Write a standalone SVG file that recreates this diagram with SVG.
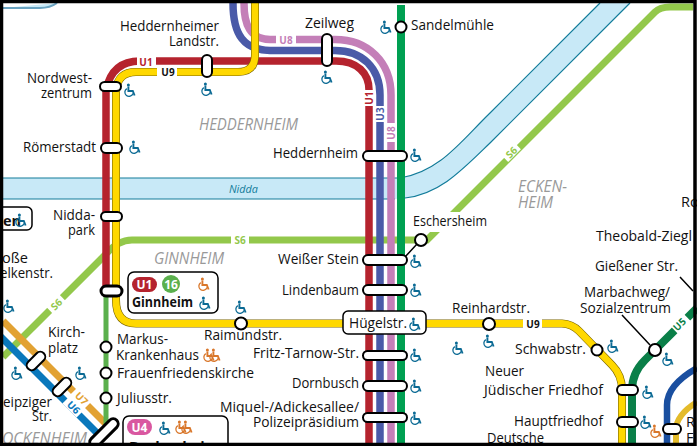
<svg xmlns="http://www.w3.org/2000/svg" xmlns:xlink="http://www.w3.org/1999/xlink" width="697" height="446" viewBox="0 0 697 446">
<style>
text{font-family:"Open Sans","Noto Sans","Liberation Sans",sans-serif;font-size:14.500px;fill:#111}
.d{font-style:italic;fill:#999;font-size:16px}
.l{font-size:10px;font-weight:700;text-anchor:middle}
.ln{fill:none}
.pill{fill:#fff;stroke:#000;stroke-width:2}
.st{fill:#fff;stroke:#000;stroke-width:2}
.box{fill:#fff;stroke:#000;stroke-width:1.5}
.lead{stroke:#000;stroke-width:1.5;fill:none}
.b{color:#0b6a94}
.o{color:#d9772b}
</style>
<defs>
<g id="wc">
<circle cx="-1.6" cy="-5" r="1.5" fill="currentColor"/>
<path d="M-1.6,-3.600V1H2.800L4.600,5.500" fill="none" stroke="currentColor" stroke-width="1.9"/>
<path d="M-3.200,-1.400A4.200,4.200 0 1 0 3,3.600" fill="none" stroke="currentColor" stroke-width="1.3"/>
</g>
<g id="wc2">
<use xlink:href="#wc" href="#wc" x="-3"/>
<use xlink:href="#wc" href="#wc" x="3"/>
</g>
</defs>
<rect width="697" height="446" fill="#fff"/>
<g id="connectors">
<path d="M3,178H395C440,176 462,140 490,113L600,3H630L490,143C462,170 440,197 395,199H3Z" fill="#c8e9f7" stroke="none"/>
<path d="M3,178H400C440,172 462,140 490,113L600,3M630,3L490,143C462,170 440,194 405,198M3,199H395" fill="none" stroke="#127c9a" stroke-width="1.2"/>
<path d="M3,8H40Q50,8 57,3" fill="#c8e9f7" stroke="#6aa3c0" stroke-width="2"/>
<path d="M3,357L106,254Q118,240 132,240H427L655,12Q660,7 670,7H693" class="ln" stroke="#93c84b" stroke-width="7"/>
<rect x="412" y="212" width="78" height="20" fill="#fff"/>
<path d="M3,321L112,430" class="ln" stroke="#e2a233" stroke-width="7"/>
<path d="M0,336L98,434" class="ln" stroke="#0a78bc" stroke-width="7"/>
<path d="M106,290V426" class="ln" stroke="#5bb04d" stroke-width="5"/>
<path d="M401,5V446" class="ln" stroke="#00a052" stroke-width="8"/>
<path d="M244,3C244,25 250,39 270,39.500H335C368,39.500 391,62 391,95V446" class="ln" stroke="#c47fb8" stroke-width="7.500"/>
<path d="M233,3C233,35 244,50 270,50.500H335C362,50.500 380,68 380,95V446" class="ln" stroke="#4a5aa8" stroke-width="7.500"/>
<path d="M106,290V90Q112,61 140,61H336C357,61 369,73 369,90V446" class="ln" stroke="#b5232e" stroke-width="7.500"/>
<path d="M116,300V90Q118,72 136,72H238Q255,72 255,55V0" class="ln" stroke="#7a6500" stroke-width="8"/>
<path d="M116,300V90Q118,72 136,72H238Q255,72 255,55V0" class="ln" stroke="#ffd800" stroke-width="6.800"/>
<path d="M116,85V300Q116,323.500 136,323.500H562Q572,324 579,331L612,365Q622,375 622,390V446" class="ln" stroke="#7a6500" stroke-width="8"/>
<path d="M116,85V300Q116,323.500 136,323.500H562Q572,324 579,331L612,365Q622,375 622,390V446" class="ln" stroke="#ffd800" stroke-width="6.800"/>
<path d="M697,308L645,360Q632,373 632,390V446" class="ln" stroke="#0a7f48" stroke-width="8"/>
<path d="M697,368Q667,385 667,405V446" class="ln" stroke="#1a4fa0" stroke-width="6.500"/>
<path d="M697,402Q676,415 676,430V446" class="ln" stroke="#e4bb2a" stroke-width="6"/>
<g fill="#fff">
<rect x="137" y="55" width="19" height="12"/>
<rect x="157" y="66" width="20" height="11"/>
<rect x="276" y="34" width="20" height="11"/>
<rect x="364" y="90" width="10" height="16"/>
<rect x="375" y="106" width="10" height="16"/>
<rect x="386" y="123" width="10" height="19"/>
<rect x="231" y="235" width="18" height="10"/>
<rect x="523" y="318" width="19" height="12"/>
<rect x="-9" y="-5" width="18" height="10" transform="translate(511,152) rotate(-45)"/>
<rect x="-9" y="-5" width="18" height="10" transform="translate(56,304) rotate(-45)"/>
<rect x="-9" y="-5" width="18" height="10" transform="translate(681,324) rotate(-45)"/>
<rect x="-10" y="-5" width="20" height="10" transform="translate(81,398) rotate(45)"/>
<rect x="-10" y="-5" width="20" height="10" transform="translate(73,407) rotate(45)"/>
</g>
<path d="M622,315L650,345M680,277L693,291M405,257L417,244" class="lead"/>
<text class="l" x="146" y="66" style="fill:#b5232e">U1</text>
<text class="l" x="168" y="76">U9</text>
<text class="l" x="286" y="44" style="fill:#c47fb8">U8</text>
<text class="l" transform="translate(373,98) rotate(-90)" style="fill:#b5232e">U1</text>
<text class="l" transform="translate(384,114) rotate(-90)" style="fill:#4a5aa8">U3</text>
<text class="l" transform="translate(395,133) rotate(-90)" style="fill:#c47fb8">U8</text>
<text class="l" x="240" y="244" style="fill:#93c84b">S6</text>
<text class="l" x="533" y="328">U9</text>
<text class="l" transform="translate(514,155) rotate(-45)" style="fill:#93c84b">S6</text>
<text class="l" transform="translate(59,307) rotate(-45)" style="fill:#93c84b">S6</text>
<text class="l" transform="translate(682,327) rotate(-45)" style="fill:#0a7f48">U5</text>
<text class="l" transform="translate(79,401) rotate(45)" style="fill:#e2a233">U7</text>
<text class="l" transform="translate(71,410) rotate(45)" style="fill:#0a78bc">U6</text>
</g>
<g id="districts">
<text class="d" x="199" y="130" textLength="99" lengthAdjust="spacingAndGlyphs">HEDDERNHEIM</text>
<text class="d" x="154" y="264" textLength="70" lengthAdjust="spacingAndGlyphs">GINNHEIM</text>
<text class="d" x="518" y="192" textLength="49" lengthAdjust="spacingAndGlyphs">ECKEN-</text>
<text class="d" x="518" y="208" textLength="35" lengthAdjust="spacingAndGlyphs">HEIM</text>
<text class="d" x="2" y="444" textLength="85" lengthAdjust="spacingAndGlyphs">OCKENHEIM</text>
<text x="229" y="193" textLength="29" lengthAdjust="spacingAndGlyphs" style="font-size:10px;font-style:italic;fill:#127c9a">Nidda</text>
</g>
<g id="n-heddernheimer"><rect class="pill" x="202" y="55" width="10" height="22" rx="5"/><text x="120" y="31" textLength="99" lengthAdjust="spacingAndGlyphs">Heddernheimer</text><text x="169" y="46" textLength="50" lengthAdjust="spacingAndGlyphs">Landstr.</text><use href="#wc" x="207" y="89" class="b"/></g>
<g id="n-nordwest"><rect class="pill" x="100" y="82" width="21" height="9" rx="4.500"/><text x="27" y="83" textLength="65" lengthAdjust="spacingAndGlyphs">Nordwest-</text><text x="41" y="98" textLength="51" lengthAdjust="spacingAndGlyphs">zentrum</text><use href="#wc" x="130" y="90" class="b"/></g>
<g id="n-roemerstadt"><rect class="pill" x="101" y="143" width="21" height="10" rx="5"/><text x="23" y="152" textLength="73" lengthAdjust="spacingAndGlyphs">Römerstadt</text><use href="#wc" x="135" y="147" class="b"/></g>
<g id="n-niddapark"><rect class="pill" x="101" y="212" width="21" height="9" rx="4.500"/><text x="53" y="220" textLength="42" lengthAdjust="spacingAndGlyphs">Nidda-</text><text x="68" y="235" textLength="27" lengthAdjust="spacingAndGlyphs">park</text></g>
<g id="n-ginnheim"><rect class="pill" x="101" y="286" width="21" height="10" rx="5" style="stroke-width:3"/><rect class="box" x="128" y="272" width="90" height="41" rx="6"/><rect x="132" y="277" width="25" height="15" rx="7.500" fill="#b5232e"/><text x="144.500" y="289" style="font-size:12px;font-weight:700;fill:#fff;text-anchor:middle">U1</text><circle cx="171" cy="284" r="9" fill="#5bb04d"/><text x="171" y="289" style="font-size:12px;font-weight:700;fill:#fff;text-anchor:middle">16</text><use href="#wc" x="204" y="284" class="o"/><text x="132" y="307" textLength="61" lengthAdjust="spacingAndGlyphs" style="font-weight:700">Ginnheim</text><use href="#wc" x="205" y="303" class="b"/></g>
<g id="n-zeilweg"><rect class="pill" x="322" y="34" width="10" height="32" rx="5"/><text x="305" y="28" textLength="49" lengthAdjust="spacingAndGlyphs">Zeilweg</text><use href="#wc" x="327" y="77" class="b"/></g>
<g id="n-sandelmuehle"><circle class="st" cx="401" cy="27" r="5.500"/><text x="411" y="30" textLength="83" lengthAdjust="spacingAndGlyphs">Sandelmühle</text><use href="#wc" x="386" y="27" class="b"/></g>
<g id="n-heddernheim"><rect class="pill" x="363" y="151" width="44" height="10" rx="5"/><text x="273" y="158" textLength="85" lengthAdjust="spacingAndGlyphs">Heddernheim</text><use href="#wc" x="416" y="155" class="b"/></g>
<g id="n-eschersheim"><circle class="st" cx="421" cy="240" r="6"/><text x="413" y="226" textLength="74" lengthAdjust="spacingAndGlyphs">Eschersheim</text></g>
<g id="n-weisser"><rect class="pill" x="363" y="255" width="44" height="10" rx="5"/><text x="278" y="264" textLength="81" lengthAdjust="spacingAndGlyphs">Weißer Stein</text><use href="#wc" x="416" y="261" class="b"/></g>
<g id="n-lindenbaum"><rect class="pill" x="363" y="285" width="44" height="10" rx="5"/><text x="282" y="295" textLength="77" lengthAdjust="spacingAndGlyphs">Lindenbaum</text><use href="#wc" x="416" y="290" class="b"/></g>
<g id="n-huegel"><rect class="box" x="343" y="311" width="83" height="23" rx="5"/><text x="349" y="328" textLength="58" lengthAdjust="spacingAndGlyphs">Hügelstr.</text><use href="#wc" x="415" y="324" class="b"/></g>
<g id="n-fritz"><rect class="pill" x="363" y="351" width="44" height="9" rx="4.500"/><text x="253" y="358" textLength="106" lengthAdjust="spacingAndGlyphs">Fritz-Tarnow-Str.</text><use href="#wc" x="416" y="355" class="b"/></g>
<g id="n-dornbusch"><rect class="pill" x="363" y="381" width="44" height="10" rx="5"/><text x="292" y="388" textLength="67" lengthAdjust="spacingAndGlyphs">Dornbusch</text><use href="#wc" x="416" y="386" class="b"/></g>
<g id="n-miquel"><rect class="pill" x="363" y="413" width="44" height="9" rx="4.500"/><text x="220" y="412" textLength="139" lengthAdjust="spacingAndGlyphs">Miquel-/Adickesallee/</text><text x="253" y="427" textLength="106" lengthAdjust="spacingAndGlyphs">Polizeipräsidium</text><use href="#wc" x="416" y="418" class="b"/></g>
<g id="n-raimund"><circle class="st" cx="241" cy="323.500" r="6"/><text x="204" y="340" textLength="78" lengthAdjust="spacingAndGlyphs">Raimundstr.</text><use href="#wc" x="241" y="307" class="b"/></g>
<g id="n-reinhard"><circle class="st" cx="489" cy="324" r="6"/><text x="452" y="313" textLength="78" lengthAdjust="spacingAndGlyphs">Reinhardstr.</text><use href="#wc" x="489" y="341" class="b"/></g>
<use href="#wc" x="458" y="348" class="b"/>
<g id="n-schwab"><circle class="st" cx="597" cy="350" r="5.500"/><text x="515" y="354" textLength="71" lengthAdjust="spacingAndGlyphs">Schwabstr.</text><use href="#wc" x="613" y="346" class="b"/></g>
<g id="n-marbach"><circle class="st" cx="655" cy="350" r="6"/><text x="584" y="297" textLength="86" lengthAdjust="spacingAndGlyphs">Marbachweg/</text><text x="580" y="313" textLength="91" lengthAdjust="spacingAndGlyphs">Sozialzentrum</text><use href="#wc" x="668" y="359" class="b"/></g>
<g id="n-juedisch"><rect class="pill" x="617" y="385" width="21" height="10" rx="5"/><text x="485" y="376" textLength="39" lengthAdjust="spacingAndGlyphs">Neuer</text><text x="484" y="395" textLength="119" lengthAdjust="spacingAndGlyphs">Jüdischer Friedhof</text><use href="#wc" x="648" y="392" class="b"/></g>
<g id="n-haupt"><rect class="pill" x="617" y="417" width="21" height="10" rx="5"/><text x="514" y="426" textLength="89" lengthAdjust="spacingAndGlyphs">Hauptfriedhof</text><text x="487" y="443" textLength="57" lengthAdjust="spacingAndGlyphs">Deutsche</text><use href="#wc" x="646" y="422" class="b"/></g>
<g id="n-right"><rect class="pill" x="663" y="424" width="18" height="10" rx="5"/><use href="#wc" x="656" y="431" class="o"/><text x="686" y="427">R</text><text x="686" y="443">F</text></g>
<g id="n-theobald"><text x="596" y="241" textLength="96" lengthAdjust="spacingAndGlyphs">Theobald-Ziegl</text></g>
<g id="n-giessen"><text x="595" y="271" textLength="83" lengthAdjust="spacingAndGlyphs">Gießener Str.</text></g>
<g id="n-ro"><text x="681" y="207">Ro</text></g>
<g id="n-markus"><circle class="st" cx="106" cy="347" r="5.500"/><text x="117" y="344" textLength="51" lengthAdjust="spacingAndGlyphs">Markus-</text><text x="116" y="360" textLength="83" lengthAdjust="spacingAndGlyphs">Krankenhaus</text><use href="#wc2" x="212" y="355" class="o"/></g>
<g id="n-frauen"><circle class="st" cx="106" cy="373" r="5.500"/><text x="117" y="378" textLength="137" lengthAdjust="spacingAndGlyphs">Frauenfriedenskirche</text></g>
<g id="n-julius"><circle class="st" cx="106" cy="398" r="5.500"/><text x="117" y="403" textLength="55" lengthAdjust="spacingAndGlyphs">Juliusstr.</text></g>
<g id="n-kirch"><rect class="pill" x="-11" y="-5" width="22" height="10" rx="5" transform="translate(36,361) rotate(-45)"/><text x="48" y="337" textLength="37" lengthAdjust="spacingAndGlyphs">Kirch-</text><text x="48" y="353" textLength="30" lengthAdjust="spacingAndGlyphs">platz</text><use href="#wc" x="17" y="373" class="b"/></g>
<g id="n-leipzig"><rect class="pill" x="-11" y="-5" width="22" height="10" rx="5" transform="translate(62,387) rotate(-45)"/><text x="3" y="407" textLength="49" lengthAdjust="spacingAndGlyphs">eipziger</text><text x="32" y="421" textLength="20" lengthAdjust="spacingAndGlyphs">Str.</text><use href="#wc" x="81" y="373" class="b"/></g>
<g id="n-grosse"><text x="2" y="263" textLength="26" lengthAdjust="spacingAndGlyphs">oße</text><text x="0" y="278" textLength="53" lengthAdjust="spacingAndGlyphs">elkenstr.</text><use href="#wc" x="9" y="306" class="b"/></g>
<g id="n-left-box"><rect class="box" x="-6" y="207" width="38" height="23" rx="5"/><text x="3" y="226" style="font-weight:700">en</text><use href="#wc" x="21" y="220" class="b"/></g>
<g id="n-bockenheim"><rect class="pill" x="-18" y="-5" width="36" height="10" rx="5" transform="translate(104,433) rotate(-45)" style="stroke-width:3"/><rect class="box" x="123" y="416" width="105" height="40" rx="6"/><rect x="127" y="419" width="25" height="16" rx="8" fill="#d957a0"/><text x="139.500" y="432" style="font-size:12px;font-weight:700;fill:#fff;text-anchor:middle">U4</text><use href="#wc" x="165" y="428" class="b"/><use href="#wc2" x="184" y="427" class="o"/><text x="129" y="452" style="font-weight:700">Bockenheimer</text></g>
<path id="frame" d="M1.500,1.500H695V444.500H1.500Z" fill="none" stroke="#000" stroke-width="3.500"/>
</svg>
